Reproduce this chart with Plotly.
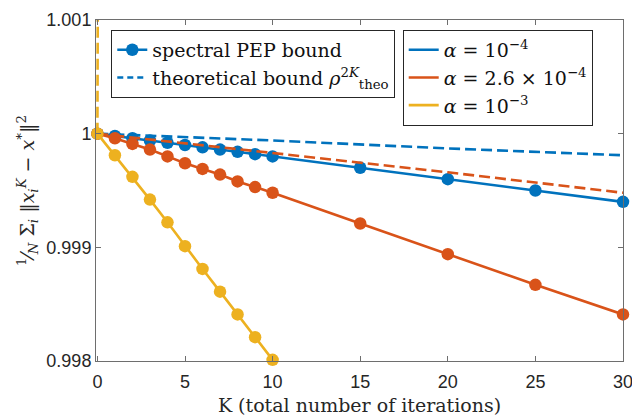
import plotly.graph_objects as go

# ---- data ----
K_spec = [0, 1, 2, 3, 4, 5, 6, 7, 8, 9, 10, 15, 20, 25, 30]
spec_a1 = [1.0, 0.99998, 0.99996, 0.99994, 0.99992, 0.99990, 0.99988, 0.99986,
           0.99984, 0.99982, 0.99980, 0.99970, 0.99960, 0.99950, 0.99940]
spec_a2 = [1.0, 0.99996, 0.99991, 0.99986, 0.99980, 0.99974, 0.99969, 0.99964,
           0.99958, 0.99953, 0.99948, 0.99921, 0.99894, 0.99867, 0.99841]
K_spec3 = [0, 1, 2, 3, 4, 5, 6, 7, 8, 9, 10]
spec_a3 = [1.0, 0.99981, 0.99962, 0.99942, 0.99922, 0.99901, 0.99881, 0.99861,
           0.99841, 0.99821, 0.99801]

K_theo = [0, 10, 20, 30]
theo_a1 = [1.0, 0.99994, 0.99987, 0.99981]
theo_a2 = [1.0, 0.99983, 0.99966, 0.99948]
K_theo3 = [0, 1, 2]
theo_a3 = [1.0, 1.05, 1.10]

y_ticks = [0.998, 0.999, 1.0, 1.001]
y_ticktext = ["0.998", "0.999", "1", "1.001"]
x_ticks = [0, 5, 10, 15, 20, 25, 30]

alpha_labels = ["<i>α</i> = 10<sup>−4</sup>",
                "<i>α</i> = 2.6 × 10<sup>−4</sup>",
                "<i>α</i> = 10<sup>−3</sup>"]
colors = ["#0072BD", "#D95319", "#EDB120"]

LW = 2.6
MS = 12.5
DASH = "11px,5px"
SERIF = "DejaVu Serif"

fig = go.Figure()

series = [(K_spec, spec_a1, K_theo, theo_a1),
          (K_spec, spec_a2, K_theo, theo_a2),
          (K_spec3, spec_a3, K_theo3, theo_a3)]
for (ks, vs, kt, vt), c in zip(series, colors):
    fig.add_trace(go.Scatter(x=ks, y=vs, mode="lines+markers",
                             line=dict(color=c, width=LW),
                             marker=dict(color=c, size=MS),
                             showlegend=False, cliponaxis=False))
    fig.add_trace(go.Scatter(x=kt, y=vt, mode="lines",
                             line=dict(color=c, width=LW, dash=DASH),
                             showlegend=False))

# legend 1 entries
fig.add_trace(go.Scatter(x=[None], y=[None], mode="lines+markers",
                         line=dict(color=colors[0], width=LW),
                         marker=dict(color=colors[0], size=MS),
                         name="spectral PEP bound", legend="legend"))
fig.add_trace(go.Scatter(x=[None], y=[None], mode="lines",
                         line=dict(color=colors[0], width=LW, dash="6px,4px"),
                         name="theoretical bound <i>ρ</i><sup>2<i>K</i></sup><sub>theo</sub>",
                         legend="legend"))
# legend 2 entries
for lab, c in zip(alpha_labels, colors):
    fig.add_trace(go.Scatter(x=[None], y=[None], mode="lines",
                             line=dict(color=c, width=LW),
                             name=lab, legend="legend2"))

axis_common = dict(showline=True, linecolor="#6e6e6e", linewidth=1, mirror="ticks",
                   ticks="inside", ticklen=5, tickcolor="#6e6e6e",
                   showgrid=False, zeroline=False, automargin=False,
                   ticklabeloverflow="allow",
                   tickfont=dict(family="Liberation Sans", size=18, color="#262626"))

fig.update_layout(
    width=632, height=420,
    margin=dict(l=95.6, r=9, t=20, b=59),
    plot_bgcolor="white", paper_bgcolor="white",
    xaxis=dict(range=[-0.08, 30], tickvals=x_ticks, ticklabelstandoff=4,
               title=dict(text="K (total number of iterations)",
                          font=dict(family=SERIF, size=19, color="#262626"),
                          standoff=8),
               **axis_common),
    yaxis=dict(range=[0.998, 1.001], tickvals=y_ticks, ticktext=y_ticktext,
               title=dict(text="<sup>1</sup>⁄<sub><i>N</i></sub> Σ<sub><i>i</i></sub> ‖<i>x</i><sub><i>i</i></sub><sup><i>K</i></sup> − <i>x</i><sup>*</sup>‖<sup>2</sup>",
                          font=dict(family=SERIF, size=19, color="#262626"),
                          standoff=6),
               **axis_common),
    legend=dict(x=0.029, y=0.971, xanchor="left", yanchor="top",
                bgcolor="white", bordercolor="#262626", borderwidth=1,
                font=dict(family=SERIF, size=19, color="#111111"),
                tracegroupgap=0),
    legend2=dict(x=0.582, y=0.971, xanchor="left", yanchor="top",
                 bgcolor="white", bordercolor="#262626", borderwidth=1,
                 font=dict(family=SERIF, size=19, color="#111111"),
                 tracegroupgap=0),
)

fig.write_html("out.html",
               config={"displayModeBar": False},
               post_script="document.body.style.margin='0px';"
                           "document.body.style.overflow='hidden';")
